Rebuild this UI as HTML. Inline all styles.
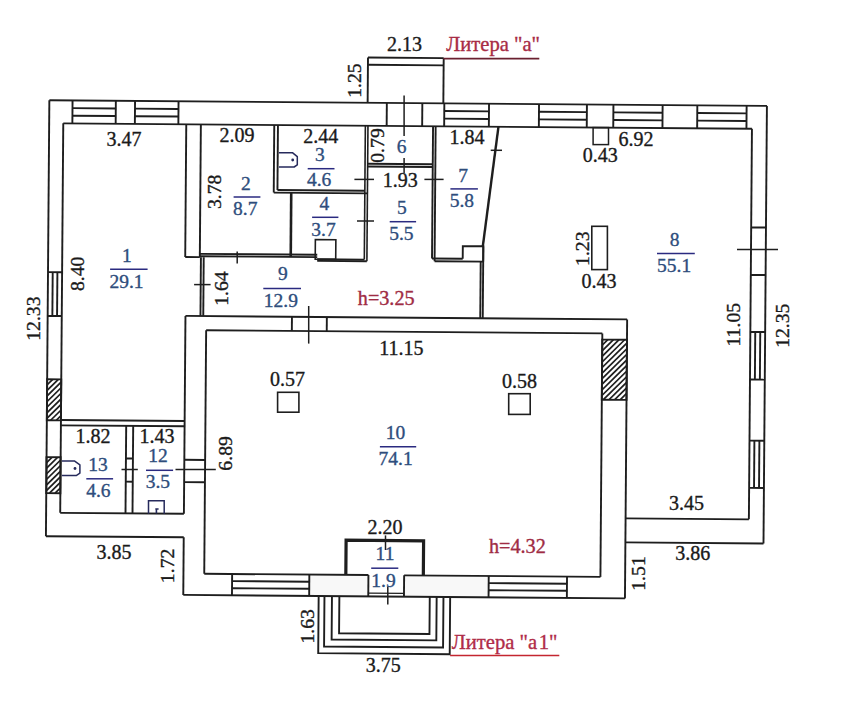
<!DOCTYPE html>
<html><head><meta charset="utf-8"><style>
html,body{margin:0;padding:0;background:#fff;width:850px;height:710px;overflow:hidden}
svg{display:block}
text{font-family:"Liberation Serif",serif}
</style></head><body>
<svg width="850" height="710" viewBox="0 0 850 710">
<g transform="rotate(0.45 400 350)">
<rect x="405.9" y="575.3" width="84.60000000000002" height="21.300000000000068" fill="#f8f8f8"/>
<rect x="311.1" y="575.3" width="59.099999999999966" height="21.300000000000068" fill="#f8f8f8"/>
<line x1="47.4" y1="103.0" x2="765.0" y2="103.0" stroke="#1e1e1e" stroke-width="1.9"/>
<line x1="61.5" y1="126.0" x2="750.2" y2="126.0" stroke="#1e1e1e" stroke-width="1.9"/>
<line x1="47.4" y1="103.0" x2="47.4" y2="539.0" stroke="#1e1e1e" stroke-width="1.9"/>
<line x1="61.5" y1="126.0" x2="61.5" y2="515.5" stroke="#1e1e1e" stroke-width="1.9"/>
<line x1="47.4" y1="539.0" x2="185.2" y2="539.0" stroke="#1e1e1e" stroke-width="1.9"/>
<line x1="765.0" y1="103.0" x2="765.0" y2="540.6" stroke="#1e1e1e" stroke-width="1.9"/>
<line x1="750.2" y1="126.0" x2="750.2" y2="516.6" stroke="#1e1e1e" stroke-width="1.9"/>
<line x1="626.9" y1="516.6" x2="750.2" y2="516.6" stroke="#1e1e1e" stroke-width="1.9"/>
<line x1="626.9" y1="540.6" x2="765.0" y2="540.6" stroke="#1e1e1e" stroke-width="1.9"/>
<line x1="185.2" y1="317.6" x2="626.9" y2="317.6" stroke="#1e1e1e" stroke-width="1.9"/>
<line x1="206.0" y1="331.8" x2="602.2" y2="331.8" stroke="#1e1e1e" stroke-width="1.9"/>
<line x1="185.2" y1="317.6" x2="185.2" y2="515.5" stroke="#1e1e1e" stroke-width="1.9"/>
<line x1="185.2" y1="539.0" x2="185.2" y2="596.6" stroke="#1e1e1e" stroke-width="1.9"/>
<line x1="206.0" y1="331.8" x2="206.0" y2="575.3" stroke="#1e1e1e" stroke-width="1.9"/>
<line x1="185.2" y1="596.6" x2="626.9" y2="596.6" stroke="#1e1e1e" stroke-width="1.9"/>
<line x1="206.0" y1="575.3" x2="370.2" y2="575.3" stroke="#1e1e1e" stroke-width="1.9"/>
<line x1="405.9" y1="575.3" x2="602.2" y2="575.3" stroke="#1e1e1e" stroke-width="1.9"/>
<line x1="370.2" y1="575.3" x2="370.2" y2="596.6" stroke="#1e1e1e" stroke-width="1.9"/>
<line x1="405.9" y1="575.3" x2="405.9" y2="596.6" stroke="#1e1e1e" stroke-width="1.9"/>
<line x1="626.9" y1="317.6" x2="626.9" y2="596.6" stroke="#1e1e1e" stroke-width="1.9"/>
<line x1="602.2" y1="331.8" x2="602.2" y2="575.3" stroke="#1e1e1e" stroke-width="1.9"/>
<line x1="365.7" y1="57.8" x2="365.7" y2="103.0" stroke="#1e1e1e" stroke-width="1.9"/>
<line x1="441.4" y1="57.8" x2="441.4" y2="103.0" stroke="#1e1e1e" stroke-width="1.9"/>
<line x1="365.7" y1="57.8" x2="441.4" y2="57.8" stroke="#1e1e1e" stroke-width="1.9"/>
<line x1="365.7" y1="65.0" x2="441.4" y2="65.0" stroke="#1e1e1e" stroke-width="1.9"/>
<line x1="70.6" y1="103.0" x2="70.6" y2="126.0" stroke="#1e1e1e" stroke-width="1.9"/>
<line x1="113.9" y1="103.0" x2="113.9" y2="126.0" stroke="#1e1e1e" stroke-width="1.9"/>
<line x1="70.6" y1="110.7" x2="113.9" y2="110.7" stroke="#1e1e1e" stroke-width="1.9"/>
<line x1="70.6" y1="118.3" x2="113.9" y2="118.3" stroke="#1e1e1e" stroke-width="1.9"/>
<line x1="133.1" y1="103.0" x2="133.1" y2="126.0" stroke="#1e1e1e" stroke-width="1.9"/>
<line x1="176.6" y1="103.0" x2="176.6" y2="126.0" stroke="#1e1e1e" stroke-width="1.9"/>
<line x1="133.1" y1="110.7" x2="176.6" y2="110.7" stroke="#1e1e1e" stroke-width="1.9"/>
<line x1="133.1" y1="118.3" x2="176.6" y2="118.3" stroke="#1e1e1e" stroke-width="1.9"/>
<line x1="442.4" y1="103.0" x2="442.4" y2="126.0" stroke="#1e1e1e" stroke-width="1.9"/>
<line x1="487.1" y1="103.0" x2="487.1" y2="126.0" stroke="#1e1e1e" stroke-width="1.9"/>
<line x1="442.4" y1="110.7" x2="487.1" y2="110.7" stroke="#1e1e1e" stroke-width="1.9"/>
<line x1="442.4" y1="118.3" x2="487.1" y2="118.3" stroke="#1e1e1e" stroke-width="1.9"/>
<line x1="537.1" y1="103.0" x2="537.1" y2="126.0" stroke="#1e1e1e" stroke-width="1.9"/>
<line x1="585.0" y1="103.0" x2="585.0" y2="126.0" stroke="#1e1e1e" stroke-width="1.9"/>
<line x1="537.1" y1="110.7" x2="585.0" y2="110.7" stroke="#1e1e1e" stroke-width="1.9"/>
<line x1="537.1" y1="118.3" x2="585.0" y2="118.3" stroke="#1e1e1e" stroke-width="1.9"/>
<line x1="611.5" y1="103.0" x2="611.5" y2="126.0" stroke="#1e1e1e" stroke-width="1.9"/>
<line x1="660.7" y1="103.0" x2="660.7" y2="126.0" stroke="#1e1e1e" stroke-width="1.9"/>
<line x1="611.5" y1="110.7" x2="660.7" y2="110.7" stroke="#1e1e1e" stroke-width="1.9"/>
<line x1="611.5" y1="118.3" x2="660.7" y2="118.3" stroke="#1e1e1e" stroke-width="1.9"/>
<line x1="695.4" y1="103.0" x2="695.4" y2="126.0" stroke="#1e1e1e" stroke-width="1.9"/>
<line x1="744.7" y1="103.0" x2="744.7" y2="126.0" stroke="#1e1e1e" stroke-width="1.9"/>
<line x1="695.4" y1="110.7" x2="744.7" y2="110.7" stroke="#1e1e1e" stroke-width="1.9"/>
<line x1="695.4" y1="118.3" x2="744.7" y2="118.3" stroke="#1e1e1e" stroke-width="1.9"/>
<line x1="384.9" y1="103.0" x2="384.9" y2="126.0" stroke="#1e1e1e" stroke-width="1.9"/>
<line x1="420.4" y1="103.0" x2="420.4" y2="126.0" stroke="#1e1e1e" stroke-width="1.9"/>
<line x1="47.4" y1="274.9" x2="61.5" y2="274.9" stroke="#1e1e1e" stroke-width="1.9"/>
<line x1="47.4" y1="318.7" x2="61.5" y2="318.7" stroke="#1e1e1e" stroke-width="1.9"/>
<line x1="52.1" y1="274.9" x2="52.1" y2="318.7" stroke="#1e1e1e" stroke-width="1.9"/>
<line x1="56.8" y1="274.9" x2="56.8" y2="318.7" stroke="#1e1e1e" stroke-width="1.9"/>
<line x1="750.2" y1="224.7" x2="765.0" y2="224.7" stroke="#1e1e1e" stroke-width="1.9"/>
<line x1="750.2" y1="272.2" x2="765.0" y2="272.2" stroke="#1e1e1e" stroke-width="1.9"/>
<line x1="750.2" y1="329.2" x2="765.0" y2="329.2" stroke="#1e1e1e" stroke-width="1.9"/>
<line x1="750.2" y1="376.8" x2="765.0" y2="376.8" stroke="#1e1e1e" stroke-width="1.9"/>
<line x1="755.1" y1="329.2" x2="755.1" y2="376.8" stroke="#1e1e1e" stroke-width="1.9"/>
<line x1="760.1" y1="329.2" x2="760.1" y2="376.8" stroke="#1e1e1e" stroke-width="1.9"/>
<line x1="750.2" y1="437.9" x2="765.0" y2="437.9" stroke="#1e1e1e" stroke-width="1.9"/>
<line x1="750.2" y1="485.1" x2="765.0" y2="485.1" stroke="#1e1e1e" stroke-width="1.9"/>
<line x1="755.1" y1="437.9" x2="755.1" y2="485.1" stroke="#1e1e1e" stroke-width="1.9"/>
<line x1="760.1" y1="437.9" x2="760.1" y2="485.1" stroke="#1e1e1e" stroke-width="1.9"/>
<line x1="233.9" y1="575.3" x2="233.9" y2="596.6" stroke="#1e1e1e" stroke-width="1.9"/>
<line x1="311.1" y1="575.3" x2="311.1" y2="596.6" stroke="#1e1e1e" stroke-width="1.9"/>
<line x1="233.9" y1="582.4" x2="311.1" y2="582.4" stroke="#1e1e1e" stroke-width="1.9"/>
<line x1="233.9" y1="589.5" x2="311.1" y2="589.5" stroke="#1e1e1e" stroke-width="1.9"/>
<line x1="490.5" y1="575.3" x2="490.5" y2="596.6" stroke="#1e1e1e" stroke-width="1.9"/>
<line x1="568.8" y1="575.3" x2="568.8" y2="596.6" stroke="#1e1e1e" stroke-width="1.9"/>
<line x1="490.5" y1="582.4" x2="568.8" y2="582.4" stroke="#1e1e1e" stroke-width="1.9"/>
<line x1="490.5" y1="589.5" x2="568.8" y2="589.5" stroke="#1e1e1e" stroke-width="1.9"/>
<clipPath id="hc1"><rect x="47.4" y="382.0" width="14.100000000000001" height="41.0"/></clipPath><g clip-path="url(#hc1)"><line x1="6.4" y1="423.0" x2="47.4" y2="382.0" stroke="#1e1e1e" stroke-width="1.7"/><line x1="12.0" y1="423.0" x2="53.0" y2="382.0" stroke="#1e1e1e" stroke-width="1.7"/><line x1="17.6" y1="423.0" x2="58.6" y2="382.0" stroke="#1e1e1e" stroke-width="1.7"/><line x1="23.2" y1="423.0" x2="64.2" y2="382.0" stroke="#1e1e1e" stroke-width="1.7"/><line x1="28.8" y1="423.0" x2="69.8" y2="382.0" stroke="#1e1e1e" stroke-width="1.7"/><line x1="34.4" y1="423.0" x2="75.4" y2="382.0" stroke="#1e1e1e" stroke-width="1.7"/><line x1="40.0" y1="423.0" x2="81.0" y2="382.0" stroke="#1e1e1e" stroke-width="1.7"/><line x1="45.6" y1="423.0" x2="86.6" y2="382.0" stroke="#1e1e1e" stroke-width="1.7"/><line x1="51.2" y1="423.0" x2="92.2" y2="382.0" stroke="#1e1e1e" stroke-width="1.7"/><line x1="56.8" y1="423.0" x2="97.8" y2="382.0" stroke="#1e1e1e" stroke-width="1.7"/><line x1="62.4" y1="423.0" x2="103.4" y2="382.0" stroke="#1e1e1e" stroke-width="1.7"/></g>
<rect x="47.4" y="382.0" width="14.1" height="41.0" fill="none" stroke="#1e1e1e" stroke-width="1.9"/>
<clipPath id="hc2"><rect x="47.4" y="459.9" width="14.100000000000001" height="36.0"/></clipPath><g clip-path="url(#hc2)"><line x1="11.4" y1="495.9" x2="47.4" y2="459.9" stroke="#1e1e1e" stroke-width="1.7"/><line x1="17.0" y1="495.9" x2="53.0" y2="459.9" stroke="#1e1e1e" stroke-width="1.7"/><line x1="22.6" y1="495.9" x2="58.6" y2="459.9" stroke="#1e1e1e" stroke-width="1.7"/><line x1="28.2" y1="495.9" x2="64.2" y2="459.9" stroke="#1e1e1e" stroke-width="1.7"/><line x1="33.8" y1="495.9" x2="69.8" y2="459.9" stroke="#1e1e1e" stroke-width="1.7"/><line x1="39.4" y1="495.9" x2="75.4" y2="459.9" stroke="#1e1e1e" stroke-width="1.7"/><line x1="45.0" y1="495.9" x2="81.0" y2="459.9" stroke="#1e1e1e" stroke-width="1.7"/><line x1="50.6" y1="495.9" x2="86.6" y2="459.9" stroke="#1e1e1e" stroke-width="1.7"/><line x1="56.2" y1="495.9" x2="92.2" y2="459.9" stroke="#1e1e1e" stroke-width="1.7"/><line x1="61.8" y1="495.9" x2="97.8" y2="459.9" stroke="#1e1e1e" stroke-width="1.7"/></g>
<rect x="47.4" y="459.9" width="14.1" height="36.0" fill="none" stroke="#1e1e1e" stroke-width="1.9"/>
<clipPath id="hc3"><rect x="602.2" y="338.0" width="24.699999999999932" height="60.1"/></clipPath><g clip-path="url(#hc3)"><line x1="542.1" y1="398.1" x2="602.2" y2="338.0" stroke="#1e1e1e" stroke-width="1.7"/><line x1="547.7" y1="398.1" x2="607.8" y2="338.0" stroke="#1e1e1e" stroke-width="1.7"/><line x1="553.3" y1="398.1" x2="613.4" y2="338.0" stroke="#1e1e1e" stroke-width="1.7"/><line x1="558.9" y1="398.1" x2="619.0" y2="338.0" stroke="#1e1e1e" stroke-width="1.7"/><line x1="564.5" y1="398.1" x2="624.6" y2="338.0" stroke="#1e1e1e" stroke-width="1.7"/><line x1="570.1" y1="398.1" x2="630.2" y2="338.0" stroke="#1e1e1e" stroke-width="1.7"/><line x1="575.7" y1="398.1" x2="635.8" y2="338.0" stroke="#1e1e1e" stroke-width="1.7"/><line x1="581.3" y1="398.1" x2="641.4" y2="338.0" stroke="#1e1e1e" stroke-width="1.7"/><line x1="586.9" y1="398.1" x2="647.0" y2="338.0" stroke="#1e1e1e" stroke-width="1.7"/><line x1="592.5" y1="398.1" x2="652.6" y2="338.0" stroke="#1e1e1e" stroke-width="1.7"/><line x1="598.1" y1="398.1" x2="658.2" y2="338.0" stroke="#1e1e1e" stroke-width="1.7"/><line x1="603.7" y1="398.1" x2="663.8" y2="338.0" stroke="#1e1e1e" stroke-width="1.7"/><line x1="609.3" y1="398.1" x2="669.4" y2="338.0" stroke="#1e1e1e" stroke-width="1.7"/><line x1="614.9" y1="398.1" x2="675.0" y2="338.0" stroke="#1e1e1e" stroke-width="1.7"/><line x1="620.5" y1="398.1" x2="680.6" y2="338.0" stroke="#1e1e1e" stroke-width="1.7"/><line x1="626.1" y1="398.1" x2="686.2" y2="338.0" stroke="#1e1e1e" stroke-width="1.7"/><line x1="631.7" y1="398.1" x2="691.8" y2="338.0" stroke="#1e1e1e" stroke-width="1.7"/></g>
<rect x="602.2" y="338.0" width="24.7" height="60.1" fill="none" stroke="#1e1e1e" stroke-width="1.9"/>
<line x1="291.7" y1="317.6" x2="291.7" y2="331.8" stroke="#1e1e1e" stroke-width="1.9"/>
<line x1="326.6" y1="317.6" x2="326.6" y2="331.8" stroke="#1e1e1e" stroke-width="1.9"/>
<line x1="184.5" y1="126.0" x2="184.5" y2="258.7" stroke="#1e1e1e" stroke-width="1.9"/>
<line x1="199.1" y1="126.0" x2="199.1" y2="258.7" stroke="#1e1e1e" stroke-width="1.9"/>
<line x1="184.5" y1="258.7" x2="199.1" y2="258.7" stroke="#1e1e1e" stroke-width="1.9"/>
<line x1="200.2" y1="258.7" x2="200.2" y2="317.6" stroke="#1e1e1e" stroke-width="1.9"/>
<line x1="203.0" y1="258.7" x2="203.0" y2="317.6" stroke="#1e1e1e" stroke-width="1.9"/>
<line x1="199.1" y1="255.4" x2="316.5" y2="255.4" stroke="#1e1e1e" stroke-width="1.9"/>
<line x1="199.1" y1="257.8" x2="316.5" y2="257.8" stroke="#1e1e1e" stroke-width="1.9"/>
<line x1="316.5" y1="259.9" x2="363.6" y2="259.9" stroke="#1e1e1e" stroke-width="1.9"/>
<line x1="316.5" y1="261.5" x2="366.1" y2="261.5" stroke="#1e1e1e" stroke-width="1.9"/>
<line x1="272.5" y1="126.0" x2="272.5" y2="193.6" stroke="#1e1e1e" stroke-width="1.9"/>
<line x1="276.2" y1="126.0" x2="276.2" y2="191.0" stroke="#1e1e1e" stroke-width="1.9"/>
<line x1="276.2" y1="191.0" x2="363.6" y2="191.0" stroke="#1e1e1e" stroke-width="1.9"/>
<line x1="272.5" y1="193.6" x2="366.1" y2="193.6" stroke="#1e1e1e" stroke-width="1.9"/>
<line x1="363.6" y1="126.0" x2="363.6" y2="259.9" stroke="#1e1e1e" stroke-width="1.6"/>
<line x1="366.2" y1="126.0" x2="366.2" y2="261.5" stroke="#1e1e1e" stroke-width="1.6"/>
<line x1="290.0" y1="193.6" x2="290.0" y2="257.8" stroke="#1e1e1e" stroke-width="2.6"/>
<rect x="314.5" y="240.3" width="20.5" height="19.6" fill="none" stroke="#1e1e1e" stroke-width="1.6"/>
<line x1="366.2" y1="164.0" x2="431.3" y2="164.0" stroke="#1e1e1e" stroke-width="1.9"/>
<line x1="366.2" y1="166.8" x2="431.3" y2="166.8" stroke="#1e1e1e" stroke-width="1.9"/>
<line x1="431.3" y1="126.0" x2="431.3" y2="258.2" stroke="#1e1e1e" stroke-width="1.9"/>
<line x1="433.9" y1="126.0" x2="433.9" y2="261.0" stroke="#1e1e1e" stroke-width="1.9"/>
<line x1="431.3" y1="258.2" x2="462.0" y2="258.2" stroke="#1e1e1e" stroke-width="1.9"/>
<line x1="433.9" y1="261.0" x2="482.5" y2="261.0" stroke="#1e1e1e" stroke-width="1.9"/>
<polyline points="462.0,258.2 462.0,245.6 482.5,245.6 482.5,261.0" fill="none" stroke="#1e1e1e" stroke-width="1.9" stroke-linejoin="miter"/>
<line x1="496.7" y1="126.0" x2="482.0" y2="245.6" stroke="#1e1e1e" stroke-width="2.4"/>
<line x1="480.0" y1="261.0" x2="480.0" y2="317.6" stroke="#1e1e1e" stroke-width="1.9"/>
<line x1="482.5" y1="245.6" x2="482.5" y2="317.6" stroke="#1e1e1e" stroke-width="1.9"/>
<line x1="61.5" y1="422.7" x2="185.2" y2="422.7" stroke="#1e1e1e" stroke-width="1.9"/>
<line x1="61.5" y1="428.0" x2="185.2" y2="428.0" stroke="#1e1e1e" stroke-width="1.9"/>
<line x1="61.5" y1="515.5" x2="185.2" y2="515.5" stroke="#1e1e1e" stroke-width="1.9"/>
<line x1="126.8" y1="428.0" x2="126.8" y2="515.5" stroke="#1e1e1e" stroke-width="1.9"/>
<line x1="133.8" y1="428.0" x2="133.8" y2="515.5" stroke="#1e1e1e" stroke-width="1.9"/>
<line x1="126.8" y1="460.6" x2="133.8" y2="460.6" stroke="#1e1e1e" stroke-width="1.9"/>
<line x1="126.8" y1="483.8" x2="133.8" y2="483.8" stroke="#1e1e1e" stroke-width="1.9"/>
<line x1="185.2" y1="461.5" x2="206.0" y2="461.5" stroke="#1e1e1e" stroke-width="1.9"/>
<line x1="185.2" y1="483.8" x2="206.0" y2="483.8" stroke="#1e1e1e" stroke-width="1.9"/>
<polyline points="347.6,575.3 347.6,540.6 425.1,540.6 425.1,575.3" fill="none" stroke="#1e1e1e" stroke-width="3.2" stroke-linejoin="miter"/>
<line x1="370.2" y1="593.3" x2="405.9" y2="593.3" stroke="#1e1e1e" stroke-width="1.3"/>
<polyline points="320.6,596.6 320.6,653.8 452.1,653.8 452.1,596.6" fill="none" stroke="#1e1e1e" stroke-width="1.9" stroke-linejoin="miter"/>
<polyline points="326.4,596.6 326.4,647.1 445.4,647.1 445.4,596.6" fill="none" stroke="#1e1e1e" stroke-width="1.9" stroke-linejoin="miter"/>
<polyline points="333.9,596.6 333.9,640.1 438.6,640.1 438.6,596.6" fill="none" stroke="#1e1e1e" stroke-width="1.9" stroke-linejoin="miter"/>
<polyline points="341.3,596.6 341.3,633.7 431.7,633.7 431.7,596.6" fill="none" stroke="#1e1e1e" stroke-width="1.9" stroke-linejoin="miter"/>
</g>
<line x1="237.2" y1="251.6" x2="237.2" y2="263.6" stroke="#1e1e1e" stroke-width="1.5"/>
<line x1="194.1" y1="284.6" x2="210.6" y2="284.6" stroke="#1e1e1e" stroke-width="1.5"/>
<line x1="354.4" y1="179.4" x2="374.0" y2="179.4" stroke="#1e1e1e" stroke-width="1.5"/>
<line x1="424.4" y1="179.4" x2="443.6" y2="179.4" stroke="#1e1e1e" stroke-width="1.5"/>
<line x1="357.0" y1="221.0" x2="374.0" y2="221.0" stroke="#1e1e1e" stroke-width="1.5"/>
<line x1="490.7" y1="150.3" x2="502.0" y2="150.3" stroke="#1e1e1e" stroke-width="1.5"/>
<line x1="404.1" y1="95.5" x2="404.1" y2="136.0" stroke="#1e1e1e" stroke-width="1.5"/>
<line x1="404.1" y1="158.0" x2="404.1" y2="173.0" stroke="#1e1e1e" stroke-width="1.5"/>
<line x1="308.7" y1="306.0" x2="308.7" y2="343.6" stroke="#1e1e1e" stroke-width="1.5"/>
<line x1="121.5" y1="469.5" x2="137.8" y2="469.5" stroke="#1e1e1e" stroke-width="1.5"/>
<line x1="175.5" y1="469.5" x2="215.8" y2="469.5" stroke="#1e1e1e" stroke-width="1.5"/>
<line x1="737.0" y1="249.6" x2="778.0" y2="249.6" stroke="#1e1e1e" stroke-width="1.5"/>
<line x1="385.5" y1="535.4" x2="385.5" y2="550.0" stroke="#1e1e1e" stroke-width="1.5"/>
<line x1="387.8" y1="586.5" x2="387.8" y2="604.6" stroke="#1e1e1e" stroke-width="1.5"/>
<rect x="277.6" y="392.3" width="21.3" height="19.9" fill="none" stroke="#1e1e1e" stroke-width="1.6"/>
<rect x="508.7" y="393.7" width="21.5" height="20.7" fill="none" stroke="#1e1e1e" stroke-width="1.6"/>
<rect x="593.1" y="127.6" width="15.4" height="17.0" fill="none" stroke="#1e1e1e" stroke-width="1.5"/>
<rect x="591.8" y="226.3" width="15.6" height="43.3" fill="none" stroke="#1e1e1e" stroke-width="1.6"/>
<path d="M278.9,152.7 L292.4,152.7 L297.3,156.7 L297.3,164.9 L294.1,167 L278.9,167" fill="none" stroke="#262a5c" stroke-width="1.5" stroke-linejoin="round"/>
<circle cx="292.7" cy="160" r="1.4" fill="#262a5c"/>
<path d="M61.9,461.1 L74.7,461.1 L79.9,464.8 L79.9,473.2 L76.2,475.6 L61.9,475.6" fill="none" stroke="#262a5c" stroke-width="1.5" stroke-linejoin="round"/>
<circle cx="75" cy="468.5" r="1.4" fill="#262a5c"/>
<path d="M148.5,513.8 L148.5,500.7 L164.2,500.7 L164.2,513.8" fill="none" stroke="#262a5c" stroke-width="1.5"/>
<path d="M155.3,509 L158.6,509 M156.4,509 L156.4,513.5" fill="none" stroke="#262a5c" stroke-width="1.6"/>
<text x="404.6" y="50.8" font-size="20" fill="#1a1a1a" stroke="#1a1a1a" stroke-width="0.35" text-anchor="middle">2.13</text>
<text x="124.05" y="146.2" font-size="20" fill="#1a1a1a" stroke="#1a1a1a" stroke-width="0.35" text-anchor="middle">3.47</text>
<text x="237" y="141.7" font-size="20" fill="#1a1a1a" stroke="#1a1a1a" stroke-width="0.35" text-anchor="middle">2.09</text>
<text x="320.8" y="142.5" font-size="20" fill="#1a1a1a" stroke="#1a1a1a" stroke-width="0.35" text-anchor="middle">2.44</text>
<text x="467" y="143.8" font-size="20" fill="#1a1a1a" stroke="#1a1a1a" stroke-width="0.35" text-anchor="middle">1.84</text>
<text x="636.0" y="146.0" font-size="20" fill="#1a1a1a" stroke="#1a1a1a" stroke-width="0.35" text-anchor="middle">6.92</text>
<text x="600.3" y="162" font-size="20" fill="#1a1a1a" stroke="#1a1a1a" stroke-width="0.35" text-anchor="middle">0.43</text>
<text x="400.2" y="187.2" font-size="20" fill="#1a1a1a" stroke="#1a1a1a" stroke-width="0.35" text-anchor="middle">1.93</text>
<text x="599.0" y="288.2" font-size="20" fill="#1a1a1a" stroke="#1a1a1a" stroke-width="0.35" text-anchor="middle">0.43</text>
<text x="401.5" y="354.7" font-size="20" fill="#1a1a1a" stroke="#1a1a1a" stroke-width="0.35" text-anchor="middle">11.15</text>
<text x="287.6" y="385.6" font-size="20" fill="#1a1a1a" stroke="#1a1a1a" stroke-width="0.35" text-anchor="middle">0.57</text>
<text x="519.4" y="387.8" font-size="20" fill="#1a1a1a" stroke="#1a1a1a" stroke-width="0.35" text-anchor="middle">0.58</text>
<text x="93.0" y="443.0" font-size="20" fill="#1a1a1a" stroke="#1a1a1a" stroke-width="0.35" text-anchor="middle">1.82</text>
<text x="157.1" y="443.0" font-size="20" fill="#1a1a1a" stroke="#1a1a1a" stroke-width="0.35" text-anchor="middle">1.43</text>
<text x="686.5" y="509.9" font-size="20" fill="#1a1a1a" stroke="#1a1a1a" stroke-width="0.35" text-anchor="middle">3.45</text>
<text x="114.0" y="558.5" font-size="20" fill="#1a1a1a" stroke="#1a1a1a" stroke-width="0.35" text-anchor="middle">3.85</text>
<text x="692.7" y="560.4" font-size="20" fill="#1a1a1a" stroke="#1a1a1a" stroke-width="0.35" text-anchor="middle">3.86</text>
<text x="385.1" y="533.6" font-size="20" fill="#1a1a1a" stroke="#1a1a1a" stroke-width="0.35" text-anchor="middle">2.20</text>
<text x="383.2" y="671.8" font-size="20" fill="#1a1a1a" stroke="#1a1a1a" stroke-width="0.35" text-anchor="middle">3.75</text>
<text x="361.2" y="80.6" font-size="19.7" fill="#1a1a1a" stroke="#1a1a1a" stroke-width="0.35" text-anchor="middle" transform="rotate(-90 361.2 80.6)">1.25</text>
<text x="220.7" y="191.8" font-size="19.7" fill="#1a1a1a" stroke="#1a1a1a" stroke-width="0.35" text-anchor="middle" transform="rotate(-90 220.7 191.8)">3.78</text>
<text x="384.2" y="145.5" font-size="19.7" fill="#1a1a1a" stroke="#1a1a1a" stroke-width="0.35" text-anchor="middle" transform="rotate(-90 384.2 145.5)">0.79</text>
<text x="84.1" y="273.8" font-size="19.7" fill="#1a1a1a" stroke="#1a1a1a" stroke-width="0.35" text-anchor="middle" transform="rotate(-90 84.1 273.8)">8.40</text>
<text x="40.2" y="318.6" font-size="19.7" fill="#1a1a1a" stroke="#1a1a1a" stroke-width="0.35" text-anchor="middle" transform="rotate(-90 40.2 318.6)">12.33</text>
<text x="228.0" y="288.5" font-size="19.7" fill="#1a1a1a" stroke="#1a1a1a" stroke-width="0.35" text-anchor="middle" transform="rotate(-90 228.0 288.5)">1.64</text>
<text x="588.8" y="248.7" font-size="19.7" fill="#1a1a1a" stroke="#1a1a1a" stroke-width="0.35" text-anchor="middle" transform="rotate(-90 588.8 248.7)">1.23</text>
<text x="740.4" y="324.7" font-size="19.7" fill="#1a1a1a" stroke="#1a1a1a" stroke-width="0.35" text-anchor="middle" transform="rotate(-90 740.4 324.7)">11.05</text>
<text x="789.3" y="325.7" font-size="19.7" fill="#1a1a1a" stroke="#1a1a1a" stroke-width="0.35" text-anchor="middle" transform="rotate(-90 789.3 325.7)">12.35</text>
<text x="232.0" y="453.4" font-size="19.7" fill="#1a1a1a" stroke="#1a1a1a" stroke-width="0.35" text-anchor="middle" transform="rotate(-90 232.0 453.4)">6.89</text>
<text x="173.7" y="565.9" font-size="19.7" fill="#1a1a1a" stroke="#1a1a1a" stroke-width="0.35" text-anchor="middle" transform="rotate(-90 173.7 565.9)">1.72</text>
<text x="644.7" y="573.5" font-size="19.7" fill="#1a1a1a" stroke="#1a1a1a" stroke-width="0.35" text-anchor="middle" transform="rotate(-90 644.7 573.5)">1.51</text>
<text x="313.6" y="626.3" font-size="19.7" fill="#1a1a1a" stroke="#1a1a1a" stroke-width="0.35" text-anchor="middle" transform="rotate(-90 313.6 626.3)">1.63</text>
<text x="126.8" y="261.5" font-size="19.5" fill="#2e4d7c" stroke="#2e4d7c" stroke-width="0.35" text-anchor="middle">1</text>
<line x1="110.1" y1="269.3" x2="147.6" y2="269.3" stroke="#2a2a80" stroke-width="1.5"/>
<text x="126.5" y="287.6" font-size="19.5" fill="#2e4d7c" stroke="#2e4d7c" stroke-width="0.35" text-anchor="middle">29.1</text>
<text x="245.9" y="190.0" font-size="19.5" fill="#2e4d7c" stroke="#2e4d7c" stroke-width="0.35" text-anchor="middle">2</text>
<line x1="233.6" y1="197" x2="260.4" y2="197" stroke="#2a2a80" stroke-width="1.5"/>
<text x="245.2" y="214.9" font-size="19.5" fill="#2e4d7c" stroke="#2e4d7c" stroke-width="0.35" text-anchor="middle">8.7</text>
<text x="319.9" y="160.8" font-size="19.5" fill="#2e4d7c" stroke="#2e4d7c" stroke-width="0.35" text-anchor="middle">3</text>
<line x1="307.7" y1="168.7" x2="334.5" y2="168.7" stroke="#2a2a80" stroke-width="1.5"/>
<text x="319.1" y="186.3" font-size="19.5" fill="#2e4d7c" stroke="#2e4d7c" stroke-width="0.35" text-anchor="middle">4.6</text>
<text x="324.3" y="209.7" font-size="19.5" fill="#2e4d7c" stroke="#2e4d7c" stroke-width="0.35" text-anchor="middle">4</text>
<line x1="312.1" y1="217.3" x2="338.4" y2="217.3" stroke="#2a2a80" stroke-width="1.5"/>
<text x="323.5" y="235.5" font-size="19.5" fill="#2e4d7c" stroke="#2e4d7c" stroke-width="0.35" text-anchor="middle">3.7</text>
<text x="401.8" y="213.6" font-size="19.5" fill="#2e4d7c" stroke="#2e4d7c" stroke-width="0.35" text-anchor="middle">5</text>
<line x1="389.7" y1="221.7" x2="416.1" y2="221.7" stroke="#2a2a80" stroke-width="1.5"/>
<text x="401.4" y="239.8" font-size="19.5" fill="#2e4d7c" stroke="#2e4d7c" stroke-width="0.35" text-anchor="middle">5.5</text>
<text x="463.0" y="181.7" font-size="19.5" fill="#2e4d7c" stroke="#2e4d7c" stroke-width="0.35" text-anchor="middle">7</text>
<line x1="450.4" y1="188.9" x2="477.9" y2="188.9" stroke="#2a2a80" stroke-width="1.5"/>
<text x="461.9" y="206.9" font-size="19.5" fill="#2e4d7c" stroke="#2e4d7c" stroke-width="0.35" text-anchor="middle">5.8</text>
<text x="674.7" y="245.5" font-size="19.5" fill="#2e4d7c" stroke="#2e4d7c" stroke-width="0.35" text-anchor="middle">8</text>
<line x1="657" y1="253.5" x2="694.8" y2="253.5" stroke="#2a2a80" stroke-width="1.5"/>
<text x="674.1" y="271.7" font-size="19.5" fill="#2e4d7c" stroke="#2e4d7c" stroke-width="0.35" text-anchor="middle">55.1</text>
<text x="282.8" y="280.0" font-size="19.5" fill="#2e4d7c" stroke="#2e4d7c" stroke-width="0.35" text-anchor="middle">9</text>
<line x1="263.3" y1="288.4" x2="301" y2="288.4" stroke="#2a2a80" stroke-width="1.5"/>
<text x="280.9" y="306.8" font-size="19.5" fill="#2e4d7c" stroke="#2e4d7c" stroke-width="0.35" text-anchor="middle">12.9</text>
<text x="395.5" y="439.2" font-size="19.5" fill="#2e4d7c" stroke="#2e4d7c" stroke-width="0.35" text-anchor="middle">10</text>
<line x1="379.9" y1="446.7" x2="416.2" y2="446.7" stroke="#2a2a80" stroke-width="1.5"/>
<text x="395.6" y="465.4" font-size="19.5" fill="#2e4d7c" stroke="#2e4d7c" stroke-width="0.35" text-anchor="middle">74.1</text>
<text x="385.0" y="560.4" font-size="19.5" fill="#2e4d7c" stroke="#2e4d7c" stroke-width="0.35" text-anchor="middle">11</text>
<line x1="371.2" y1="568.2" x2="398.3" y2="568.2" stroke="#2a2a80" stroke-width="1.5"/>
<text x="383.5" y="586.6" font-size="19.5" fill="#2e4d7c" stroke="#2e4d7c" stroke-width="0.35" text-anchor="middle">1.9</text>
<text x="157.9" y="461.7" font-size="19.5" fill="#2e4d7c" stroke="#2e4d7c" stroke-width="0.35" text-anchor="middle">12</text>
<line x1="146" y1="470.3" x2="173.1" y2="470.3" stroke="#2a2a80" stroke-width="1.5"/>
<text x="157.9" y="487.9" font-size="19.5" fill="#2e4d7c" stroke="#2e4d7c" stroke-width="0.35" text-anchor="middle">3.5</text>
<text x="98.1" y="471.2" font-size="19.5" fill="#2e4d7c" stroke="#2e4d7c" stroke-width="0.35" text-anchor="middle">13</text>
<line x1="86.3" y1="478.8" x2="113.1" y2="478.8" stroke="#2a2a80" stroke-width="1.5"/>
<text x="98.4" y="497.0" font-size="19.5" fill="#2e4d7c" stroke="#2e4d7c" stroke-width="0.35" text-anchor="middle">4.6</text>
<text x="401.7" y="153" font-size="19.5" fill="#2e4d7c" stroke="#2e4d7c" stroke-width="0.35" text-anchor="middle">6</text>
<text x="446.3" y="51.3" font-size="20.6" fill="#a82c45" stroke="#a82c45" stroke-width="0.35" text-anchor="start">Литера "а"</text>
<line x1="443.5" y1="58.6" x2="539.3" y2="58.6" stroke="#6a2030" stroke-width="1.6"/>
<text x="451.8" y="649.0" font-size="20.6" fill="#b02c48" stroke="#b02c48" stroke-width="0.35" text-anchor="start">Литера "а<tspan dx="1.6">1</tspan>"</text>
<line x1="450.1" y1="655.5" x2="559.3" y2="655.5" stroke="#c42630" stroke-width="1.6"/>
<text x="357.8" y="304.9" font-size="20.2" fill="#a02c44" stroke="#a02c44" stroke-width="0.35" text-anchor="start">h=3.25</text>
<text x="489.0" y="553.3" font-size="20.2" fill="#a02c44" stroke="#a02c44" stroke-width="0.35" text-anchor="start">h=4.32</text>
</svg></body></html>
